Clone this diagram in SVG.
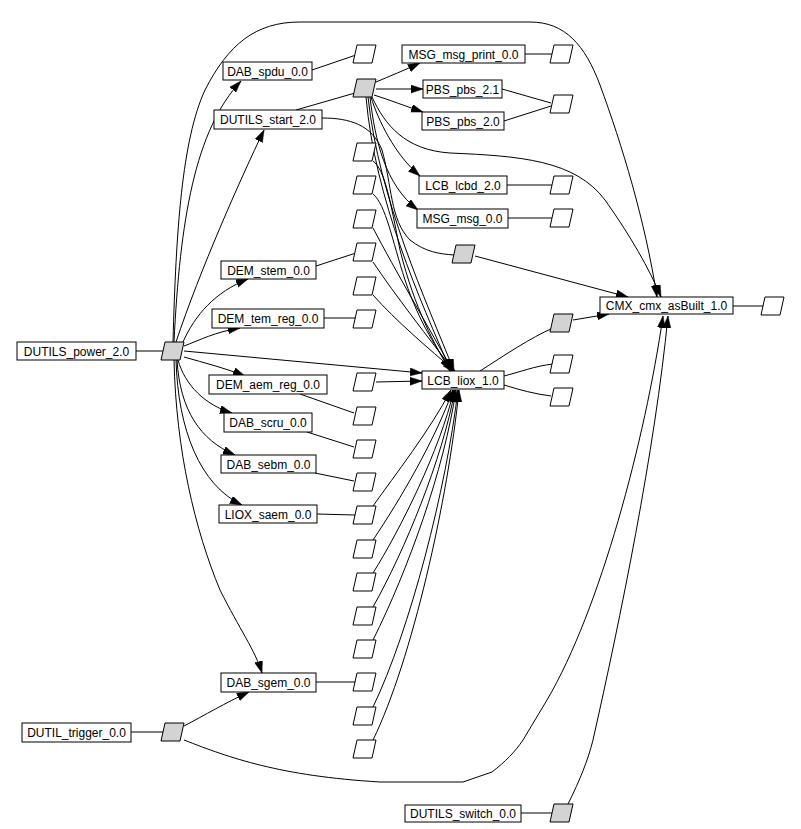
<svg xmlns="http://www.w3.org/2000/svg" xmlns:xlink="http://www.w3.org/1999/xlink" width="801" height="829" viewBox="0 0 801 829">
<style>
.b{fill:#fff;stroke:#000;stroke-width:1}
.w{fill:#fff;stroke:#000;stroke-width:1}
.g{fill:#d3d3d3;stroke:#000;stroke-width:1}
text{font-family:"Liberation Sans",Arial,sans-serif;font-size:12px;text-anchor:middle;fill:#000}
.e path{fill:none;stroke:#000;stroke-width:1}
.e .a{marker-end:url(#ah)}
</style>
<defs>
<marker id="ah" markerWidth="13" markerHeight="9" refX="12" refY="4" orient="auto" markerUnits="userSpaceOnUse"><path d="M0,0 L12,4 L0,8 z" fill="#000" stroke="#000" stroke-width="0.5"/></marker>
<polygon id="pp" points="4,0 23,0 19,18 0,18"/>
</defs>
<rect width="801" height="829" fill="#fff"/>
<g class="e">
<path d="M136,351 L163,351"/>
<path class="a" d="M174,342 C180,220 195,130 241,81"/>
<path class="a" d="M176,342 C200,270 240,180 264,130"/>
<path class="a" d="M173,342 C176,230 182,140 205,90 C228,45 255,22 300,22 L530,22 C565,22 585,45 600,85 C622,145 645,220 657,297"/>
<path class="a" d="M183,342 C195,315 215,292 248,279"/>
<path class="a" d="M184,346 C200,340 215,332 240,328"/>
<path class="a" d="M184,351 L422,373"/>
<path class="a" d="M184,357 C205,363 225,368 245,376"/>
<path class="a" d="M178,360 C185,385 205,405 232,413"/>
<path class="a" d="M177,360 C180,410 200,440 235,455"/>
<path class="a" d="M176,360 C178,430 200,485 242,505"/>
<path class="a" d="M174,360 C176,450 195,530 220,590 C240,630 255,650 262,673"/>
<path d="M131,732 L163,732"/>
<path class="a" d="M184,726 C205,715 225,703 249,692"/>
<path class="a" d="M184,740 C230,758 280,776 380,782 L463,782 L492,772 C505,762 515,752 523,740 L547,700 C600,610 645,440 663,316"/>
<path d="M521,813 L552,813"/>
<path class="a" d="M568,804 C580,780 588,760 593,740 C620,620 655,450 668,316"/>
<path d="M312,70 L356,55"/>
<path d="M296,110 L355,93"/>
<path d="M316,266 L356,253"/>
<path d="M324,318 L355,318"/>
<path d="M300,394 L354,413"/>
<path d="M307,432 L354,447"/>
<path d="M315,473 L354,481"/>
<path d="M317,514 L355,515"/>
<path d="M316,682 L355,682"/>
<path class="a" d="M376,82 C390,76 405,70 420,63"/>
<path class="a" d="M376,89 L423,89"/>
<path class="a" d="M374,95 C390,100 405,106 423,112"/>
<path class="a" d="M372,97 C385,125 405,150 450,153 C520,156 575,160 605,200 C630,235 650,270 661,297"/>
<path class="a" d="M371,97 C378,120 395,155 420,176"/>
<path class="a" d="M370,97 C375,140 385,185 418,210"/>
<path class="a" d="M366,97 C375,200 420,300 451,371"/>
<path class="a" d="M368,97 C379,200 426,300 454,371"/>
<path d="M322,118 C350,118 372,125 382,150 C392,185 390,220 410,240 C425,252 440,254 454,255"/>
<path class="a" d="M373,161 C385,170 390,200 400,250 C415,310 435,345 450,371"/>
<path class="a" d="M373,194 C386,205 392,240 405,280 C420,325 438,350 452,371"/>
<path class="a" d="M373,228 C395,270 430,330 453,371"/>
<path class="a" d="M373,262 C395,295 430,340 454,371"/>
<path class="a" d="M373,295 C395,320 430,350 455,371"/>
<path class="a" d="M376,382 L422,381"/>
<path class="a" d="M373,506 C395,475 430,430 451,390"/>
<path class="a" d="M373,540 C400,500 435,440 453,390"/>
<path class="a" d="M373,573 C400,530 440,450 454,390"/>
<path class="a" d="M373,607 C405,550 442,460 455,390"/>
<path class="a" d="M373,640 C408,570 444,470 456,390"/>
<path class="a" d="M373,707 C410,630 446,490 458,390"/>
<path class="a" d="M373,740 C412,660 448,500 459,390"/>
<path d="M525,54 L553,54"/>
<path d="M502,89 L551,103"/>
<path d="M504,121 L551,106"/>
<path d="M507,185 L552,185"/>
<path d="M508,218 L552,218"/>
<path class="a" d="M475,256 L628,297"/>
<path d="M480,371 C505,355 530,338 553,328"/>
<path d="M504,376 C520,372 535,366 553,364"/>
<path d="M504,385 C520,390 535,394 551,396"/>
<path class="a" d="M573,320 L609,314"/>
<path d="M733,306 L763,306"/>
</g>
<g id="DUTILS_power_2.0"><rect class="b" x="17" y="342" width="119" height="18"/><text x="76.5" y="355.5">DUTILS_power_2.0</text></g>
<g id="DUTIL_trigger_0.0"><rect class="b" x="22" y="723" width="109" height="19"/><text x="76.5" y="737">DUTIL_trigger_0.0</text></g>
<g id="DAB_spdu_0.0"><rect class="b" x="223" y="62" width="89" height="18"/><text x="267.5" y="75.5">DAB_spdu_0.0</text></g>
<g id="DUTILS_start_2.0"><rect class="b" x="214" y="110" width="108" height="19"/><text x="268" y="124">DUTILS_start_2.0</text></g>
<g id="DEM_stem_0.0"><rect class="b" x="221" y="261" width="95" height="18"/><text x="268.5" y="274.5">DEM_stem_0.0</text></g>
<g id="DEM_tem_reg_0.0"><rect class="b" x="212" y="309" width="112" height="19"/><text x="268" y="323">DEM_tem_reg_0.0</text></g>
<g id="DEM_aem_reg_0.0"><rect class="b" x="209" y="375" width="118" height="19"/><text x="268" y="389">DEM_aem_reg_0.0</text></g>
<g id="DAB_scru_0.0"><rect class="b" x="224" y="413" width="88" height="19"/><text x="268" y="427">DAB_scru_0.0</text></g>
<g id="DAB_sebm_0.0"><rect class="b" x="221" y="455" width="95" height="18"/><text x="268.5" y="468.5">DAB_sebm_0.0</text></g>
<g id="LIOX_saem_0.0"><rect class="b" x="219" y="505" width="98" height="18"/><text x="268" y="518.5">LIOX_saem_0.0</text></g>
<g id="DAB_sgem_0.0"><rect class="b" x="221" y="673" width="95" height="19"/><text x="268.5" y="687">DAB_sgem_0.0</text></g>
<g id="MSG_msg_print_0.0"><rect class="b" x="402" y="45" width="123" height="18"/><text x="463.5" y="58.5">MSG_msg_print_0.0</text></g>
<g id="PBS_pbs_2.1"><rect class="b" x="423" y="80" width="79" height="18"/><text x="462.5" y="93.5">PBS_pbs_2.1</text></g>
<g id="PBS_pbs_2.0"><rect class="b" x="422" y="112" width="82" height="18"/><text x="463" y="125.5">PBS_pbs_2.0</text></g>
<g id="LCB_lcbd_2.0"><rect class="b" x="419" y="176" width="88" height="18"/><text x="463" y="189.5">LCB_lcbd_2.0</text></g>
<g id="MSG_msg_0.0"><rect class="b" x="417" y="209" width="91" height="19"/><text x="462.5" y="223">MSG_msg_0.0</text></g>
<g id="LCB_liox_1.0"><rect class="b" x="422" y="371" width="82" height="18"/><text x="463" y="384.5">LCB_liox_1.0</text></g>
<g id="CMX_cmx_asBuilt_1.0"><rect class="b" x="600" y="297" width="133" height="17"/><text x="666.5" y="310">CMX_cmx_asBuilt_1.0</text></g>
<g id="DUTILS_switch_0.0"><rect class="b" x="405" y="805" width="116" height="17"/><text x="463" y="818">DUTILS_switch_0.0</text></g>
<g id="pg_power"><use xlink:href="#pp" class="g" x="161" y="342"/></g>
<g id="pg_trigger"><use xlink:href="#pp" class="g" x="161" y="723"/></g>
<g id="pg_start"><use xlink:href="#pp" class="g" x="353" y="79"/></g>
<g id="pg_mid"><use xlink:href="#pp" class="g" x="452" y="245"/></g>
<g id="pg_liox"><use xlink:href="#pp" class="g" x="550" y="314"/></g>
<g id="pg_switch"><use xlink:href="#pp" class="g" x="550" y="804"/></g>
<g id="p_a45"><use xlink:href="#pp" class="w" x="353" y="45"/></g>
<g id="p_a143"><use xlink:href="#pp" class="w" x="353" y="143"/></g>
<g id="p_a176"><use xlink:href="#pp" class="w" x="353" y="176"/></g>
<g id="p_a209"><use xlink:href="#pp" class="w" x="353" y="210"/></g>
<g id="p_a243"><use xlink:href="#pp" class="w" x="353" y="243"/></g>
<g id="p_a276"><use xlink:href="#pp" class="w" x="353" y="277"/></g>
<g id="p_a309"><use xlink:href="#pp" class="w" x="353" y="310"/></g>
<g id="p_a373"><use xlink:href="#pp" class="w" x="353" y="373"/></g>
<g id="p_a407"><use xlink:href="#pp" class="w" x="353" y="407"/></g>
<g id="p_a440"><use xlink:href="#pp" class="w" x="353" y="440"/></g>
<g id="p_a473"><use xlink:href="#pp" class="w" x="353" y="473"/></g>
<g id="p_a506"><use xlink:href="#pp" class="w" x="353" y="506"/></g>
<g id="p_a540"><use xlink:href="#pp" class="w" x="353" y="540"/></g>
<g id="p_a573"><use xlink:href="#pp" class="w" x="353" y="573"/></g>
<g id="p_a607"><use xlink:href="#pp" class="w" x="353" y="607"/></g>
<g id="p_a640"><use xlink:href="#pp" class="w" x="353" y="640"/></g>
<g id="p_a673"><use xlink:href="#pp" class="w" x="353" y="673"/></g>
<g id="p_a707"><use xlink:href="#pp" class="w" x="353" y="707"/></g>
<g id="p_a740"><use xlink:href="#pp" class="w" x="353" y="740"/></g>
<g id="p_e45"><use xlink:href="#pp" class="w" x="550" y="45"/></g>
<g id="p_e94"><use xlink:href="#pp" class="w" x="550" y="95"/></g>
<g id="p_e177"><use xlink:href="#pp" class="w" x="550" y="176"/></g>
<g id="p_e209"><use xlink:href="#pp" class="w" x="550" y="209"/></g>
<g id="p_e354"><use xlink:href="#pp" class="w" x="550" y="355"/></g>
<g id="p_e388"><use xlink:href="#pp" class="w" x="550" y="388"/></g>
<g id="p_cmx"><use xlink:href="#pp" class="w" x="761" y="297"/></g>
</svg>
